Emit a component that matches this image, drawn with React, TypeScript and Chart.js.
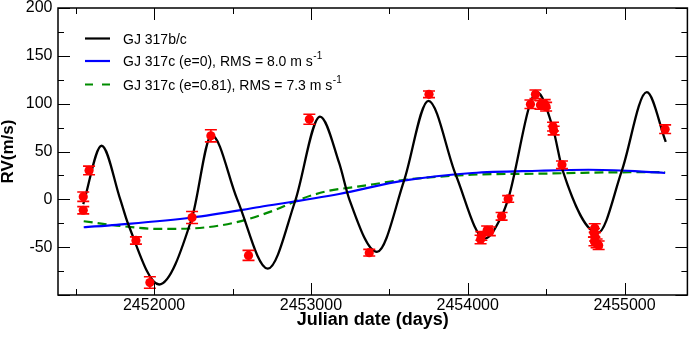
import { useEffect, useRef } from 'react';
import { Chart, registerables } from 'chart.js';

Chart.register(...registerables);

const FONT = "'Liberation Sans', Arial, Helvetica, sans-serif";

// Observations (Julian date, RV m/s, error m/s)
const rvTimes = [2451548, 2451548, 2451585, 2451884, 2451973, 2452242, 2452362, 2452602, 2452990, 2453372, 2453753, 2454082, 2454087, 2454124, 2454141, 2454216, 2454258, 2454400, 2454432, 2454464, 2454491, 2454500, 2454544, 2454548, 2454601, 2454805, 2454810, 2454812, 2454808, 2454822, 2454835, 2455259];
const rvValues = [2.8, -11.4, 30.2, -43, -87, -19, 66.4, -58.6, 83.7, -55.8, 109.8, -42, -38.3, -32.3, -33.4, -17.7, 0.4, 99.4, 109.8, 98.6, 99.7, 96.9, 76, 71.9, 36.1, -35, -30, -39, -44, -46, -48, 73.3];
const rvErrors = [4.9, 3.8, 4.5, 3.8, 6, 6.3, 6.3, 5.2, 5.2, 3.5, 3.5, 4.5, 4.5, 4.5, 4.5, 4, 3.5, 4.5, 4.5, 4.5, 4.5, 4.5, 4.5, 4.5, 4, 4.5, 4.5, 4.5, 4.5, 4.5, 4.5, 4.5];

// GJ 317b/c model curve
const modelTimes = [2451548, 2451665, 2451784, 2451835, 2452032, 2452242, 2452367, 2452530, 2452725, 2452899, 2453058, 2453180, 2453245, 2453421, 2453594, 2453749, 2453923, 2454108, 2454216, 2454258, 2454442, 2454544, 2454606, 2454830, 2454983, 2455142, 2455263];
const modelValues = [-5, 56, 0, -26, -89, -19, 67, 0, -72.5, -2, 86.5, 38, 0, -55, 19.5, 103, 26, -41, -17.7, 0.4, 112, 74, 30, -35, 30, 112, 60];

// GJ 317c circular (e=0)
const circTimes = [2451551, 2451761, 2452242, 2452673, 2453180, 2453600, 2454030, 2454453, 2454771, 2455089, 2455259];
const circValues = [-29.2, -26.6, -19, -8, 5.6, 19.8, 27.5, 29.9, 30.9, 29.2, 27.5];

// GJ 317c eccentric (e=0.81)
const eccTimes = [2451551, 2451761, 2452036, 2452227, 2452418, 2452588, 2452778, 2452927, 2453096, 2453308, 2453602, 2454026, 2454453, 2454877, 2455259];
const eccValues = [-22.9, -27.4, -30.9, -30.5, -27.4, -21.2, -10.7, -0.3, 8.3, 13.5, 20.5, 25.7, 26.8, 28.1, 28.5];

const xMin = 2451387;
const xMax = 2455401;
const yMin = -100;
const yMax = 200;
const xMajorTicks = [2452000, 2453000, 2454000, 2455000];
const xMinorTicks = [2451500, 2452500, 2453500, 2454500];
const yMajorTicks = [-100, -50, 0, 50, 100, 150, 200];
const yMinorTicks = [-75, -25, 25, 75, 125, 175];

const legendLabels = ['GJ 317b/c', 'GJ 317c (e=0), RMS = 8.0 m s', 'GJ 317c (e=0.81), RMS = 7.3 m s'];
const legendSups = ['', '-1', '-1'];
const seriesColors = ['#000000', '#0000ff', '#008c00'];
const seriesDashes: number[][] = [[], [], [9, 5]];

const errorBarPlugin = {
  id: 'errorBars',
  beforeDatasetDraw(chart: any, args: any) {
    if (args.index !== 0) return;
    const { ctx, scales: { x, y } } = chart;
    ctx.save();
    ctx.strokeStyle = '#ff0000';
    ctx.lineWidth = 1.6;
    rvTimes.forEach((t, i) => {
      const px = x.getPixelForValue(t);
      const top = y.getPixelForValue(rvValues[i] + rvErrors[i]);
      const bot = y.getPixelForValue(rvValues[i] - rvErrors[i]);
      ctx.beginPath();
      ctx.moveTo(px, top);
      ctx.lineTo(px, bot);
      ctx.moveTo(px - 6, top);
      ctx.lineTo(px + 6, top);
      ctx.moveTo(px - 6, bot);
      ctx.lineTo(px + 6, bot);
      ctx.stroke();
    });
    ctx.restore();
  },
};

const framePlugin = {
  id: 'frame',
  afterDraw(chart: any) {
    const { ctx, chartArea: a, scales: { x, y } } = chart;
    ctx.save();
    ctx.strokeStyle = '#000';
    ctx.lineWidth = 1;
    const tick = (vals: number[], len: number) => {
      ctx.beginPath();
      vals.forEach((v) => {
        const px = Math.round(x.getPixelForValue(v)) + 0.5;
        ctx.moveTo(px, a.bottom);
        ctx.lineTo(px, a.bottom - len);
        ctx.moveTo(px, a.top);
        ctx.lineTo(px, a.top + len);
      });
      ctx.stroke();
    };
    const ytick = (vals: number[], len: number) => {
      ctx.beginPath();
      vals.forEach((v) => {
        const py = Math.round(y.getPixelForValue(v)) + 0.5;
        ctx.moveTo(a.left, py);
        ctx.lineTo(a.left + len, py);
        ctx.moveTo(a.right, py);
        ctx.lineTo(a.right - len, py);
      });
      ctx.stroke();
    };
    tick(xMajorTicks, 12);
    tick(xMinorTicks, 6);
    ytick(yMajorTicks, 12);
    ytick(yMinorTicks, 6);
    ctx.lineWidth = 1.5;
    ctx.strokeRect(a.left, a.top, a.right - a.left, a.bottom - a.top);
    ctx.restore();
  },
};

const legendPlugin = {
  id: 'customLegend',
  afterDraw(chart: any) {
    const { ctx, chartArea: a } = chart;
    ctx.save();
    const rows = [30.5, 53, 76.5];
    legendLabels.forEach((label, i) => {
      const yRow = a.top + rows[i];
      ctx.strokeStyle = seriesColors[i];
      ctx.lineWidth = 2.2;
      ctx.setLineDash(seriesDashes[i].length ? [8, 9] : []);
      ctx.beginPath();
      ctx.moveTo(a.left + 27, yRow);
      ctx.lineTo(a.left + 52, yRow);
      ctx.stroke();
      ctx.setLineDash([]);
      ctx.fillStyle = '#000';
      ctx.font = `14px ${FONT}`;
      ctx.textBaseline = 'alphabetic';
      ctx.textAlign = 'left';
      const tx = a.left + 65;
      const base = yRow + 5.2;
      ctx.fillText(label, tx, base);
      if (legendSups[i]) {
        const w = ctx.measureText(label).width;
        ctx.font = `10px ${FONT}`;
        ctx.fillText(legendSups[i], tx + w + 0.5, base - 7);
      }
    });
    ctx.restore();
  },
};

export default function App() {
  const ref = useRef<HTMLCanvasElement>(null);
  useEffect(() => {
    document.body.style.margin = '0';
    const canvas = ref.current;
    if (!canvas) return;
    const toXY = (xs: number[], ys: number[]) => xs.map((t, i) => ({ x: t, y: ys[i] }));
    const chart = new Chart(canvas, {
      type: 'line',
      data: {
        datasets: [
          {
            label: 'RV data',
            data: toXY(rvTimes, rvValues),
            showLine: false,
            pointRadius: 4.6,
            pointBackgroundColor: '#ff0000',
            pointBorderColor: '#ff0000',
            pointBorderWidth: 0,
            borderColor: '#ff0000',
          },
          {
            label: legendLabels[0],
            data: toXY(modelTimes, modelValues),
            borderColor: seriesColors[0],
            borderWidth: 2.3,
            pointRadius: 0,
            cubicInterpolationMode: 'monotone',
            fill: false,
          },
          {
            label: legendLabels[1],
            data: toXY(circTimes, circValues),
            borderColor: seriesColors[1],
            borderWidth: 2.2,
            pointRadius: 0,
            cubicInterpolationMode: 'monotone',
            fill: false,
          },
          {
            label: legendLabels[2],
            data: toXY(eccTimes, eccValues),
            borderColor: seriesColors[2],
            borderWidth: 2.2,
            borderDash: seriesDashes[2],
            pointRadius: 0,
            cubicInterpolationMode: 'monotone',
            fill: false,
          },
        ],
      } as any,
      options: {
        animation: false,
        responsive: false,
        layout: { padding: { top: 8, right: 3, left: 0, bottom: 0 } },
        plugins: { legend: { display: false }, tooltip: { enabled: false } },
        scales: {
          x: {
            type: 'linear',
            min: xMin,
            max: xMax,
            grid: { display: false, drawTicks: false },
            border: { display: false },
            afterBuildTicks: (s: any) => {
              s.ticks = xMajorTicks.map((v) => ({ value: v }));
            },
            afterFit: (s: any) => {
              s.height = 45;
              s.paddingLeft = 0;
              s.paddingRight = 0;
            },
            ticks: {
              callback: (v: any) => String(v),
              font: { size: 16, family: FONT },
              color: '#000',
              padding: 1,
              maxRotation: 0,
              autoSkip: false,
            },
            title: {
              display: true,
              text: 'Julian date (days)',
              color: '#000',
              font: { size: 18, weight: 'bold', family: FONT, lineHeight: 1 },
              padding: { top: 0, bottom: 11 },
            },
          },
          y: {
            type: 'linear',
            min: yMin,
            max: yMax,
            grid: { display: false, drawTicks: false },
            border: { display: false },
            afterBuildTicks: (s: any) => {
              s.ticks = yMajorTicks.map((v) => ({ value: v }));
            },
            afterFit: (s: any) => {
              s.width = 58;
              s.paddingTop = 0;
              s.paddingBottom = 0;
            },
            ticks: {
              callback: (v: any) => (v === -100 ? null : String(v)),
              font: { size: 16, family: FONT },
              color: '#000',
              padding: 5.5,
              autoSkip: false,
            },
            title: {
              display: true,
              text: 'RV(m/s)',
              color: '#000',
              font: { size: 17, weight: 'bold', family: FONT, lineHeight: 1 },
              padding: { top: 0, bottom: 0 },
            },
          },
        },
      } as any,
      plugins: [errorBarPlugin, framePlugin, legendPlugin],
    });
    return () => chart.destroy();
  }, []);
  return (
    <div style={{ position: 'absolute', left: 0, top: 0, width: 692, height: 340 }}>
      <canvas ref={ref} width={692} height={340} style={{ width: 692, height: 340, display: 'block' }} />
    </div>
  );
}
